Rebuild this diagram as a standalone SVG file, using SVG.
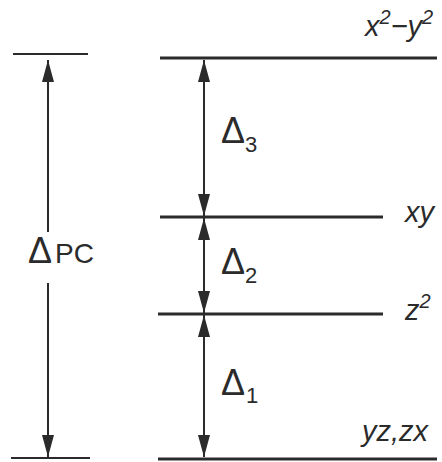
<svg xmlns="http://www.w3.org/2000/svg" width="442" height="462" viewBox="0 0 442 462">
<style>
.lvl{stroke:#2b2b2b;stroke-width:3.2;fill:none}
.ref{stroke:#2b2b2b;stroke-width:2;fill:none}
.arr{stroke:#2b2b2b;stroke-width:2;fill:none;marker-start:url(#ah);marker-end:url(#ah)}
.lab{font-family:"Liberation Sans",Arial,sans-serif;font-style:italic;font-size:29px;fill:#2b2b2b}
.sup{font-size:20px}
.dl{font-family:"Liberation Sans",Arial,sans-serif;font-size:36px;fill:#2b2b2b}
.sub{font-family:"Liberation Sans",Arial,sans-serif;font-size:22px;fill:#2b2b2b}
.pc{font-family:"Liberation Sans",Arial,sans-serif;font-size:28px;fill:#2b2b2b}
</style>
<defs>
<marker id="ah" markerUnits="userSpaceOnUse" markerWidth="22" markerHeight="12" refX="22" refY="6" orient="auto-start-reverse">
<path d="M0,0 L22,6 L0,12 z" fill="#2b2b2b"/>
</marker>
</defs>
<rect width="442" height="462" fill="#ffffff"/>
<g id="levels">
<g id="level-x2y2"><line class="lvl" x1="160" y1="58" x2="437" y2="58"/><text class="lab" x="365" y="36">x<tspan class="sup" dy="-12">2</tspan><tspan dy="12">−y</tspan><tspan class="sup" dy="-12">2</tspan></text></g>
<g id="level-xy"><line class="lvl" x1="160" y1="217" x2="383" y2="217"/><text class="lab" x="405" y="222">xy</text></g>
<g id="level-z2"><line class="lvl" x1="158" y1="314" x2="383" y2="314"/><text class="lab" x="405" y="320">z<tspan class="sup" dy="-12">2</tspan></text></g>
<g id="level-yzzx"><line class="lvl" x1="158" y1="459" x2="437" y2="459"/><text class="lab" x="362" y="441">yz,zx</text></g>
<g id="ref-top"><line class="ref" x1="13" y1="54" x2="88" y2="54"/></g>
<g id="ref-bottom"><line class="ref" x1="11" y1="458" x2="90" y2="458"/></g>
</g>
<g id="connectors">
<line x1="48" y1="60" x2="48" y2="232" stroke="#2b2b2b" stroke-width="2" marker-start="url(#ah)"/>
<line x1="48" y1="283" x2="48" y2="457" stroke="#2b2b2b" stroke-width="2" marker-end="url(#ah)"/>
<line class="arr" x1="204" y1="60" x2="204" y2="216"/>
<line class="arr" x1="204" y1="218" x2="204" y2="313"/>
<line class="arr" x1="204" y1="315" x2="204" y2="457"/>
</g>
<g id="labels">
<g id="delta-pc"><text class="dl" x="28" y="263">Δ</text><text class="pc" x="55" y="263">PC</text></g>
<g id="delta3"><text class="dl" x="221" y="143">Δ</text><text class="sub" x="245" y="152">3</text></g>
<g id="delta2"><text class="dl" x="221" y="274">Δ</text><text class="sub" x="245" y="283">2</text></g>
<g id="delta1"><text class="dl" x="221" y="395">Δ</text><text class="sub" x="246" y="403">1</text></g>
</g>
</svg>
